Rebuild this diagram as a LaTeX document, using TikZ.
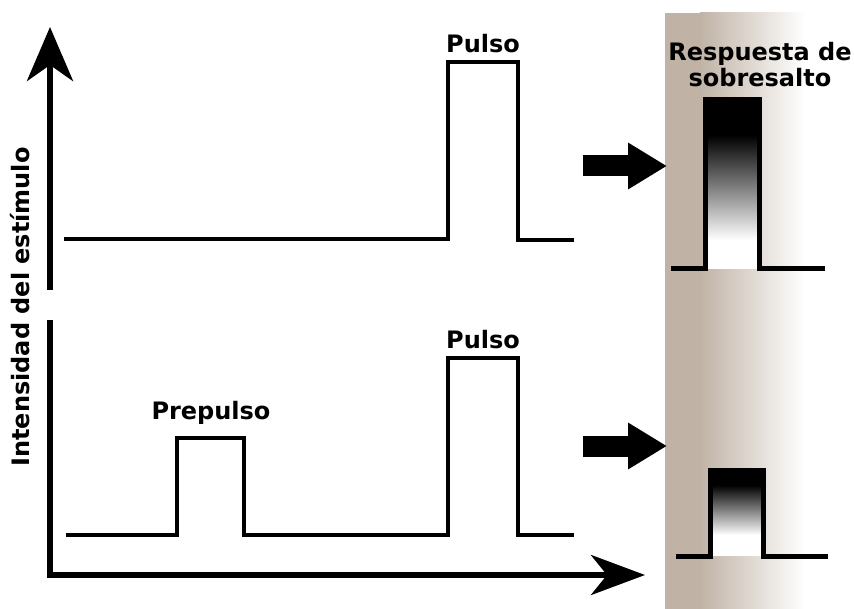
\documentclass[tikz,border=0pt]{standalone}
\usepackage{fontspec}
\setmainfont{DejaVu Sans}
\usetikzlibrary{arrows.meta,positioning}
\definecolor{panel}{RGB}{192,179,166}

\begin{document}
\begin{tikzpicture}[x=1pt,y=-1pt,line join=miter,line cap=rect]
  \tikzstyle{trace}=[line width=4pt]
  \tikzstyle{axis}=[line width=6pt,line cap=butt]
  \tikzstyle{lbl}=[font=\bfseries\fontsize{24}{28}\selectfont,inner sep=0pt]
  \tikzstyle{bigarrow}=[line width=21pt,line cap=butt,
    -{Triangle[length=39pt 0 0,width=44pt 0]}]
  \tikzstyle{response}=[line width=5pt]

  \useasboundingbox (0,0) rectangle (854,609);

  % response panel
  \fill[panel] (665,13) rectangle (700,609);
  \shade[left color=panel,right color=white] (700,13) rectangle (805,609);

  % axes
  \coordinate (ytop) at (50,27);
  \coordinate (ygap) at (50,290);
  \coordinate (ylow) at (50,320);
  \coordinate (orig) at (50,575);
  \coordinate (xend) at (645,575);
  \draw[axis,-{Stealth[length=54pt,width=46pt,inset=16pt]}] (ygap) -- (ytop);
  \draw[axis,-{Stealth[length=54pt,width=40pt,inset=16pt]}] (ylow) -- (orig) -- (xend);
  \node[lbl,rotate=90] (ylabel) at (20,307) {Intensidad del estímulo};

  % upper stimulus
  \draw[trace] (66,239) -- (448,239) -- (448,62) -- (518,62) -- (518,240) -- (572,240);
  \node[lbl] (pulse1) at (483,44) {Pulso};

  % lower stimulus
  \draw[trace] (68,535) -- (177,535) -- (177,438) -- (244,438) -- (244,535)
    -- (448,535) -- (448,358) -- (518,358) -- (518,535) -- (572,535);
  \node[lbl] (prepulse) at (211,413) {Prepulso};
  \node[lbl] (pulse2) at (483,340) {Pulso};

  % arrows to responses
  \coordinate (tail1) at (583,166);
  \coordinate (tip1) at (667,166);
  \coordinate (tail2) at (583,446);
  \coordinate (tip2) at (667,446);
  \draw[bigarrow] (tail1) -- (tip1);
  \draw[bigarrow] (tail2) -- (tip2);

  \node[lbl,align=center] (resp) at (760,65) {Respuesta de\\[-2pt]sobresalto};

  % upper response
  \fill[white] (705,100) rectangle (759,269);
  \fill[black] (705,100) rectangle (759,135);
  \shade[top color=black,bottom color=white] (705,135) rectangle (759,240);
  \draw[response] (673,269) -- (705,269) -- (705,100) -- (759,100) -- (759,269) -- (822,269);

  % lower response
  \fill[white] (710,470) rectangle (763,556);
  \fill[black] (710,470) rectangle (763,485);
  \shade[top color=black,bottom color=white] (710,485) rectangle (763,535);
  \draw[response] (678,556) -- (710,556) -- (710,470) -- (763,470) -- (763,556) -- (825,556);
\end{tikzpicture}
\end{document}
